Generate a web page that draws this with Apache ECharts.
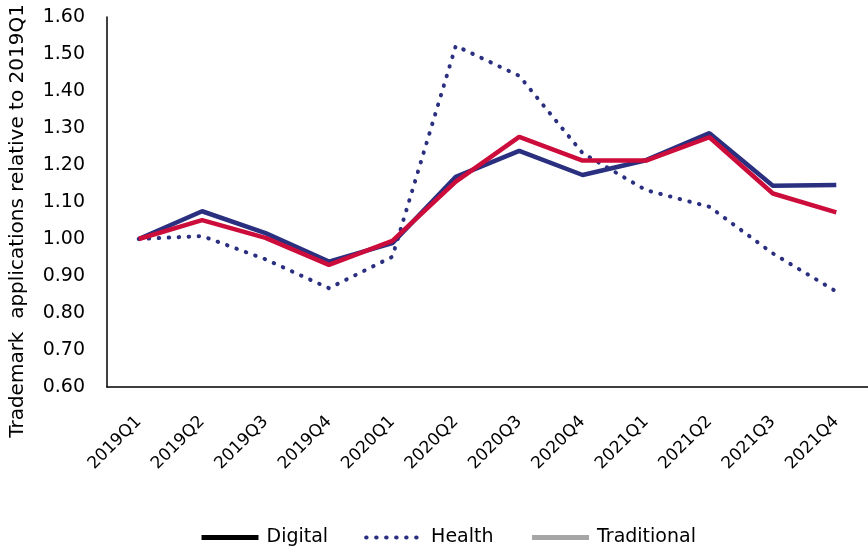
<!DOCTYPE html>
<html>
<head>
<meta charset="utf-8">
<script src="https://cdn.jsdelivr.net/npm/echarts@6/dist/echarts.min.js"></script>
<style>
html,body{margin:0;padding:0;background:#fff;}
#chart{width:868px;height:549px;}
</style>
</head>
<body>
<div id="chart"></div>
<script>
var categories = ['2019Q1','2019Q2','2019Q3','2019Q4','2020Q1','2020Q2','2020Q3','2020Q4','2021Q1','2021Q2','2021Q3','2021Q4'];
var digital = [1.00, 1.075, 1.016, 0.939, 0.989, 1.168, 1.238, 1.173, 1.213, 1.286, 1.144, 1.146];
var health = [1.00, 1.008, 0.945, 0.867, 0.952, 1.522, 1.441, 1.232, 1.132, 1.087, 0.961, 0.858];
var traditional = [1.00, 1.051, 1.003, 0.930, 0.995, 1.155, 1.276, 1.212, 1.212, 1.275, 1.123, 1.072];
var yTicks = {min: 0.6, max: 1.6, interval: 0.1};

var NAVY = '#2a2f7f';
var RED = '#cc0c3a';
var FONT = 'DejaVu Sans';

var chart = echarts.init(document.getElementById('chart'));
chart.setOption({
  animation: false,
  textStyle: {fontFamily: FONT},
  grid: {left: 105, top: 17, bottom: 162, right: -11, containLabel: false},
  legend: {
    top: 523,
    left: 194,
    itemWidth: 57,
    itemHeight: 14,
    itemGap: 36,
    textStyle: {fontSize: 19, color: '#000', fontFamily: FONT, padding: [0, 0, 0, 3]},
    itemStyle: {opacity: 0},
    data: [
      {name: 'Digital', lineStyle: {color: '#000', width: 5}},
      {name: 'Health', lineStyle: {color: NAVY, width: 4}},
      {name: 'Traditional', lineStyle: {color: '#a6a6a6', width: 5}}
    ]
  },
  xAxis: {
    type: 'category',
    data: categories,
    boundaryGap: true,
    axisLine: {lineStyle: {color: '#000', width: 1.5}},
    axisTick: {show: false},
    axisLabel: {rotate: 45, fontSize: 17, color: '#000', margin: 32, interval: 0}
  },
  yAxis: {
    type: 'value',
    min: yTicks.min,
    max: yTicks.max,
    interval: yTicks.interval,
    name: 'Trademark  applications relative to 2019Q1',
    nameLocation: 'middle',
    nameGap: 79,
    nameTextStyle: {fontSize: 20, color: '#000', padding: [0, 38, 0, 0]},
    axisLine: {show: true, lineStyle: {color: '#000', width: 1.5}},
    axisTick: {show: false},
    splitLine: {show: false},
    axisLabel: {fontSize: 19, color: '#000', margin: 22, formatter: function(v){return v.toFixed(2);}}
  },
  series: [
    {name: 'Digital', type: 'line', data: digital, symbol: 'none', lineStyle: {color: NAVY, width: 4.5}, itemStyle: {color: NAVY}},
    {name: 'Health', type: 'line', data: health, symbol: 'none', lineStyle: {color: NAVY, width: 4, type: [0.5, 9.5], cap: 'round'}, itemStyle: {color: NAVY}},
    {name: 'Traditional', type: 'line', data: traditional, symbol: 'none', lineStyle: {color: RED, width: 4.5}, itemStyle: {color: RED}}
  ]
});
</script>
</body>
</html>
